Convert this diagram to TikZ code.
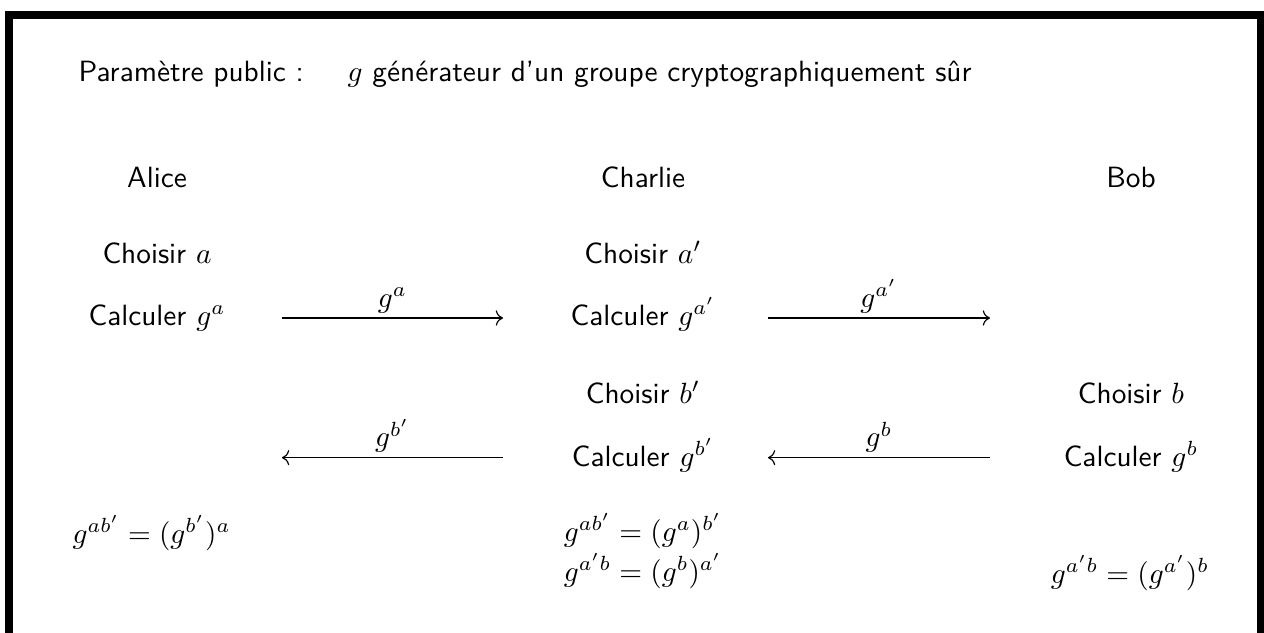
\documentclass[tikz,border=0pt]{standalone}
\usepackage{tikz}
\usetikzlibrary{arrows.meta,positioning}
\tikzset{
  frame/.style={draw=black,line width=2.7pt},
  lbl/.style={font=\sffamily,anchor=base,inner sep=0pt},
  eqn/.style={anchor=base,inner sep=0pt},
  msg/.style={-{Computer Modern Rightarrow},line width=0.4pt},
  msglbl/.style={above,inner sep=1.6pt},
}

\begin{document}
\begin{tikzpicture}
  \useasboundingbox (0,0) rectangle (15.168,-7.596);
  % cadre
  \draw[frame] (0.108,-7.7) -- (0.108,-0.18) -- (15.13,-0.18) -- (15.13,-7.7);

  \node[lbl,anchor=base west] (title) at (0.936,-0.972) {Paramètre public :\hspace{15pt}$g$ générateur d'un groupe cryptographiquement sûr};

  % les trois participants
  \node[lbl] (alice) at (1.884,-2.244) {Alice};
  \node[lbl] (charlie) at (7.716,-2.244) {Charlie};
  \node[lbl] (bob) at (13.572,-2.244) {Bob};

  \node[lbl] (choixA) at (1.884,-3.156) {Choisir $a$};
  \node[lbl] (calcA) at (1.884,-3.90) {Calculer $g^a$};
  \node[lbl] (choixC1) at (7.716,-3.156) {Choisir $a'$};
  \node[lbl] (calcC1) at (7.716,-3.90) {Calculer $g^{a'}$};
  \node[lbl] (choixC2) at (7.716,-4.836) {Choisir $b'$};
  \node[lbl] (calcC2) at (7.716,-5.592) {Calculer $g^{b'}$};
  \node[lbl] (choixB) at (13.572,-4.836) {Choisir $b$};
  \node[lbl] (calcB) at (13.572,-5.592) {Calculer $g^b$};

  % messages
  \coordinate (m1a) at (3.384,-3.816);
  \coordinate (m1b) at (6.036,-3.816);
  \coordinate (m2a) at (9.216,-3.816);
  \coordinate (m2b) at (11.88,-3.816);
  \coordinate (m3a) at (3.384,-5.492);
  \coordinate (m3b) at (6.036,-5.492);
  \coordinate (m4a) at (9.216,-5.492);
  \coordinate (m4b) at (11.88,-5.492);
  \draw[msg] (m1a) -- node[msglbl]{$g^a$} (m1b);
  \draw[msg] (m2a) -- node[msglbl]{$g^{a'}$} (m2b);
  \draw[msg] (m3b) -- node[msglbl]{$g^{b'}$} (m3a);
  \draw[msg] (m4b) -- node[msglbl]{$g^b$} (m4a);

  % cles communes
  \node[eqn] (cleA) at (1.82,-6.516) {$g^{ab'} = (g^{b'})^a$};
  \node[eqn] (cleC1) at (7.716,-6.492) {$g^{ab'} = (g^a)^{b'}$};
  \node[eqn,anchor=base west] (cleC2) at ([yshift=-0.48cm]cleC1.base west) {$g^{a'b} = (g^b)^{a'}$};
  \node[eqn] (cleB) at (13.56,-6.996) {$g^{a'b} = (g^{a'})^b$};
\end{tikzpicture}
\end{document}
